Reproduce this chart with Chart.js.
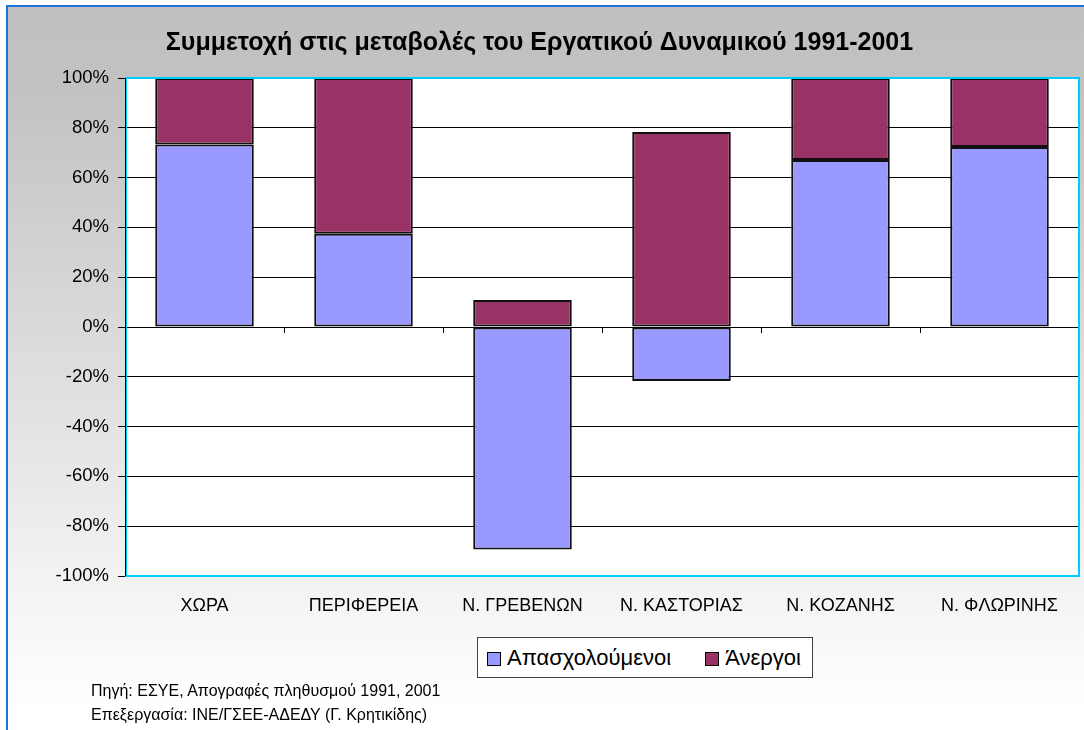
<!DOCTYPE html>
<html>
<head>
<meta charset="utf-8">
<script src="https://cdn.jsdelivr.net/npm/chart.js@4.4.0/dist/chart.umd.min.js"></script>
<style>
    html, body { margin: 0; padding: 0; background: #fff; }
    #wrap { position: relative; width: 1084px; height: 730px; overflow: hidden; font-family: "Liberation Sans", Arial, sans-serif; }
    #frame {
        position: absolute; left: 6px; top: 5px; width: 1100px; height: 760px;
        border-left: 2px solid #1f6fd6; border-top: 2px solid #1f6fd6;
        background: linear-gradient(to bottom, #c0c0c0 0px, #c2c2c2 80px, #ffffff 700px);
    }
    #chart { position: absolute; left: 0; top: 0; }
    #legend {
        position: absolute; left: 477px; top: 637px; width: 334px; height: 39px;
        border: 1px solid #404040; background: #fff;
        font-size: 22px; color: #000; line-height: 39px; white-space: nowrap;
    }
    #legend span.sw { display: inline-block; width: 12px; height: 12px; border: 1px solid #000; vertical-align: -1px; margin-right: 6px; }
    .note { position: absolute; left: 91px; font-size: 16px; color: #000; }
</style>
</head>
<body>
<div id="wrap">
    <div id="frame"></div>
    <canvas id="chart" width="1084" height="730"></canvas>
    <div id="legend"></div>
    <div class="note" style="top:682px">Πηγή: ΕΣΥΕ, Απογραφές πληθυσμού 1991, 2001</div>
    <div class="note" style="top:706px">Επεξεργασία: ΙΝΕ/ΓΣΕΕ-ΑΔΕΔΥ (Γ. Κρητικίδης)</div>
</div>
<script>
// --- DATA ---
const categories = ['ΧΩΡΑ', 'ΠΕΡΙΦΕΡΕΙΑ', 'Ν. ΓΡΕΒΕΝΩΝ', 'Ν. ΚΑΣΤΟΡΙΑΣ', 'Ν. ΚΟΖΑΝΗΣ', 'Ν. ΦΛΩΡΙΝΗΣ'];
const employed = [73.3, 37.5, -89.4, -21.7, 67.1, 72.3];   // Απασχολούμενοι
const unemployed = [26.7, 62.5, 10.8, 78.3, 32.9, 27.7];   // Άνεργοι
const seriesNames = ['Απασχολούμενοι', 'Άνεργοι'];
const seriesColors = ['#9999ff', '#993366'];
const titleText = 'Συμμετοχή στις μεταβολές του Εργατικού Δυναμικού 1991-2001';

const FONT = '"Liberation Sans", Arial, sans-serif';

// legend (html, boxed like the original)
const legendEl = document.getElementById('legend');
legendEl.innerHTML =
    `<span style="margin-left:9px"></span><span class="sw" style="background:${seriesColors[0]}"></span>${seriesNames[0]}` +
    `<span style="margin-left:34px"></span><span class="sw" style="background:${seriesColors[1]}"></span>${seriesNames[1]}`;

// white plot background
const plotBg = {
    id: 'plotBg',
    beforeDraw(chart) {
        const { ctx, chartArea: a } = chart;
        ctx.save();
        ctx.fillStyle = '#fff';
        ctx.fillRect(a.left, a.top, a.right - a.left, a.bottom - a.top);
        ctx.restore();
    }
};

// cyan frame round the plot + small ticks on the zero axis between categories
const plotFrame = {
    id: 'plotFrame',
    afterDatasetsDraw(chart) {
        const { ctx, chartArea: a, scales } = chart;
        const y0 = scales.y.getPixelForValue(0);
        const half = (scales.x.getPixelForValue(1) - scales.x.getPixelForValue(0)) / 2;
        ctx.save();
        ctx.strokeStyle = '#000';
        ctx.lineWidth = 1;
        ctx.beginPath();
        for (let i = 1; i < categories.length; i++) {
            const x = Math.round(scales.x.getPixelForValue(i) - half) + 0.5;
            ctx.moveTo(x, y0);
            ctx.lineTo(x, y0 + 6);
        }
        ctx.stroke();
        ctx.strokeStyle = '#00ccff';
        ctx.lineWidth = 2;
        ctx.strokeRect(a.left + 1, a.top, a.right - a.left - 1, a.bottom - a.top);
        ctx.strokeStyle = '#000';
        ctx.lineWidth = 1;
        ctx.beginPath();
        ctx.moveTo(a.left + 0.5, a.top);
        ctx.lineTo(a.left + 0.5, a.bottom);
        ctx.stroke();
        ctx.restore();
    }
};

new Chart(document.getElementById('chart').getContext('2d'), {
    type: 'bar',
    data: {
        labels: categories,
        datasets: [
            { label: seriesNames[0], data: employed, backgroundColor: seriesColors[0] },
            { label: seriesNames[1], data: unemployed, backgroundColor: seriesColors[1] }
        ].map(ds => ({ ...ds, borderColor: '#111', borderWidth: 2, borderSkipped: false,
                       categoryPercentage: 1, barPercentage: 0.62 }))
    },
    options: {
        responsive: false,
        animation: false,
        layout: { padding: { left: 0, right: 5, top: 0, bottom: 0 } },
        plugins: {
            legend: { display: false },
            tooltip: { enabled: false },
            title: {
                display: true, text: titleText, color: '#000',
                font: { family: FONT, size: 25, weight: 'bold' },
                padding: { top: 28, bottom: 20 }
            }
        },
        scales: {
            x: {
                stacked: true,
                grid: { display: false, drawTicks: false },
                border: { display: false },
                ticks: { color: '#000', font: { family: FONT, size: 18 }, padding: 19, maxRotation: 0 },
                afterFit: s => { s.height = 154; }
            },
            y: {
                stacked: true,
                min: -100, max: 100,
                grid: { color: '#000', lineWidth: 1, drawTicks: true, tickLength: 7, tickColor: '#000' },
                border: { display: false },
                ticks: {
                    stepSize: 20, color: '#000', padding: 9,
                    font: { family: FONT, size: 18.5 },
                    callback: v => v + '%'
                },
                afterFit: s => { s.width = 125; }
            }
        }
    },
    plugins: [plotBg, plotFrame]
});
</script>
</body>
</html>
